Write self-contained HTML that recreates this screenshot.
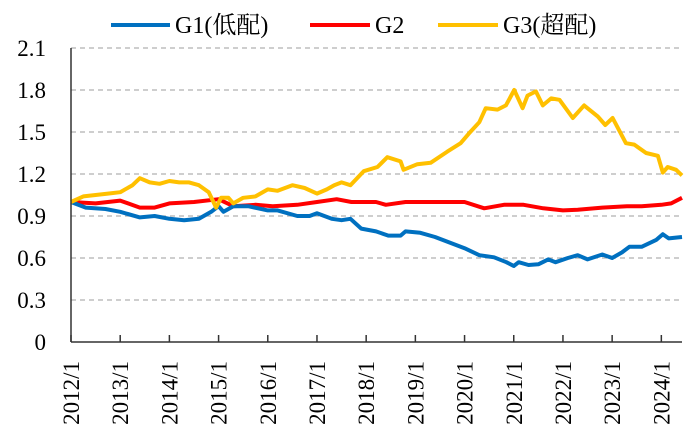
<!DOCTYPE html>
<html><head><meta charset="utf-8"><style>
body{margin:0;background:#fff;}
svg{display:block;font-family:"Liberation Serif","Noto Serif CJK SC",serif;}
</style></head><body>
<svg id="chart" width="699" height="441">
<g id="legend">
 <g><line x1="111" y1="25" x2="170" y2="25" stroke="#0070c0" stroke-width="4"/><text x="175" y="33" font-size="24">G1(低配)</text></g>
 <g><line x1="310" y1="25" x2="370" y2="25" stroke="#ff0000" stroke-width="4"/><text x="375" y="33" font-size="24">G2</text></g>
 <g><line x1="438" y1="25" x2="498" y2="25" stroke="#ffc000" stroke-width="4"/><text x="503" y="33" font-size="24">G3(超配)</text></g>
</g>
<g id="grid"></g><g id="series"></g><g id="axes"></g>
</svg>
<script>
const yTicks=[0,0.3,0.6,0.9,1.2,1.5,1.8,2.1];
const yTickLabels=["0","0.3","0.6","0.9","1.2","1.5","1.8","2.1"];
const xTicks=[2012,2013,2014,2015,2016,2017,2018,2019,2020,2021,2022,2023,2024];
const xTickLabels=["2012/1","2013/1","2014/1","2015/1","2016/1","2017/1","2018/1","2019/1","2020/1","2021/1","2022/1","2023/1","2024/1"];
const g1Dates=[2012,2012.3,2012.7,2013,2013.4,2013.7,2014,2014.3,2014.6,2014.85,2015,2015.1,2015.3,2015.6,2016,2016.2,2016.6,2016.85,2017,2017.3,2017.5,2017.68,2017.9,2018.2,2018.45,2018.7,2018.8,2019.1,2019.4,2019.7,2020,2020.3,2020.6,2020.85,2021,2021.1,2021.3,2021.5,2021.7,2021.85,2022.1,2022.3,2022.5,2022.8,2023,2023.2,2023.35,2023.6,2023.9,2024.03,2024.15,2024.42];
const g1Values=[1.0,0.96,0.95,0.93,0.89,0.9,0.88,0.87,0.88,0.93,0.97,0.93,0.97,0.97,0.94,0.94,0.9,0.9,0.92,0.88,0.87,0.88,0.81,0.79,0.76,0.76,0.79,0.78,0.75,0.71,0.67,0.62,0.605,0.57,0.543,0.57,0.55,0.555,0.59,0.57,0.6,0.62,0.59,0.625,0.6,0.64,0.68,0.68,0.73,0.77,0.74,0.75];
const g2Dates=[2012,2012.5,2013,2013.4,2013.7,2014,2014.5,2015,2015.3,2015.75,2016.1,2016.6,2017,2017.4,2017.7,2018.2,2018.4,2018.8,2019.5,2020,2020.4,2020.8,2021.2,2021.6,2022,2022.3,2022.8,2023.3,2023.6,2024,2024.2,2024.42];
const g2Values=[1.0,0.99,1.01,0.96,0.96,0.99,1.0,1.02,0.97,0.98,0.97,0.98,1.0,1.02,1.0,1.0,0.98,1.0,1.0,1.0,0.955,0.98,0.98,0.955,0.94,0.945,0.96,0.97,0.97,0.98,0.99,1.03];
const g3Dates=[2012,2012.25,2012.5,2012.75,2013,2013.25,2013.4,2013.6,2013.8,2014,2014.2,2014.4,2014.6,2014.8,2014.95,2015.05,2015.2,2015.3,2015.5,2015.75,2016,2016.2,2016.5,2016.75,2017,2017.2,2017.35,2017.5,2017.68,2017.95,2018.23,2018.43,2018.7,2018.76,2019.04,2019.31,2019.65,2019.92,2020.09,2020.3,2020.43,2020.67,2020.84,2021.01,2021.18,2021.28,2021.45,2021.59,2021.76,2021.93,2022.2,2022.43,2022.71,2022.86,2023.01,2023.28,2023.45,2023.69,2023.93,2024.03,2024.13,2024.3,2024.42];
const g3Values=[1.0,1.04,1.05,1.06,1.07,1.12,1.17,1.14,1.13,1.15,1.14,1.14,1.12,1.07,0.96,1.03,1.03,0.99,1.03,1.04,1.09,1.08,1.12,1.1,1.06,1.09,1.12,1.14,1.12,1.22,1.25,1.32,1.29,1.23,1.27,1.28,1.36,1.42,1.49,1.57,1.67,1.66,1.69,1.8,1.67,1.76,1.79,1.69,1.74,1.73,1.6,1.69,1.61,1.55,1.6,1.42,1.41,1.35,1.33,1.21,1.25,1.23,1.19];

const NS="http://www.w3.org/2000/svg";
const X0=71,X1=682,Y0=342,Y1=48,D0=2012,D1=2024.42;
const xs=d=>X0+(d-D0)/(D1-D0)*(X1-X0);
const ys=v=>Y0-v/2.1*(Y0-Y1);
function mk(tag,attrs,parent){const e=document.createElementNS(NS,tag);for(const k in attrs)e.setAttribute(k,attrs[k]);parent.appendChild(e);return e;}
const grid=document.getElementById('grid'),axes=document.getElementById('axes'),series=document.getElementById('series');
yTicks.forEach((v,i)=>{
 if(v>0){const l=mk('line',{x1:X0,x2:X1,y1:ys(v),y2:ys(v),stroke:'#b0b0b0','stroke-width':1.3,'stroke-dasharray':'5,4'},grid);
 
 }
 const t=mk('text',{x:46,y:ys(v)+8,'text-anchor':'end','font-size':23},axes);t.textContent=yTickLabels[i];
 
 
});
const ax=mk('line',{x1:X0,x2:X0,y1:Y1,y2:Y0,stroke:'#333','stroke-width':1.5},axes);


const bx=mk('line',{x1:X0,x2:X1,y1:Y0,y2:Y0,stroke:'#333','stroke-width':1.5},axes);


xTicks.forEach((d,i)=>{
 const x=xs(d);
 const tk=mk('line',{x1:x,x2:x,y1:Y0,y2:Y0-7,stroke:'#333','stroke-width':1.5},axes);
 
 
 const t=mk('text',{x:0,y:0,'text-anchor':'end','font-size':23,transform:`translate(${x+8},361) rotate(-90)`},axes);
 t.textContent=xTickLabels[i];
 
 
});
function line(dates,vals,color,name){
 const p=mk('polyline',{points:dates.map((d,i)=>xs(d)+','+ys(vals[i])).join(' '),fill:'none',stroke:color,'stroke-width':4,'stroke-linejoin':'round'},series);
 
 
}
line(g2Dates,g2Values,'#ff0000','series-g2');
line(g1Dates,g1Values,'#0070c0','series-g1');
line(g3Dates,g3Values,'#ffc000','series-g3');
</script>
</body></html>
